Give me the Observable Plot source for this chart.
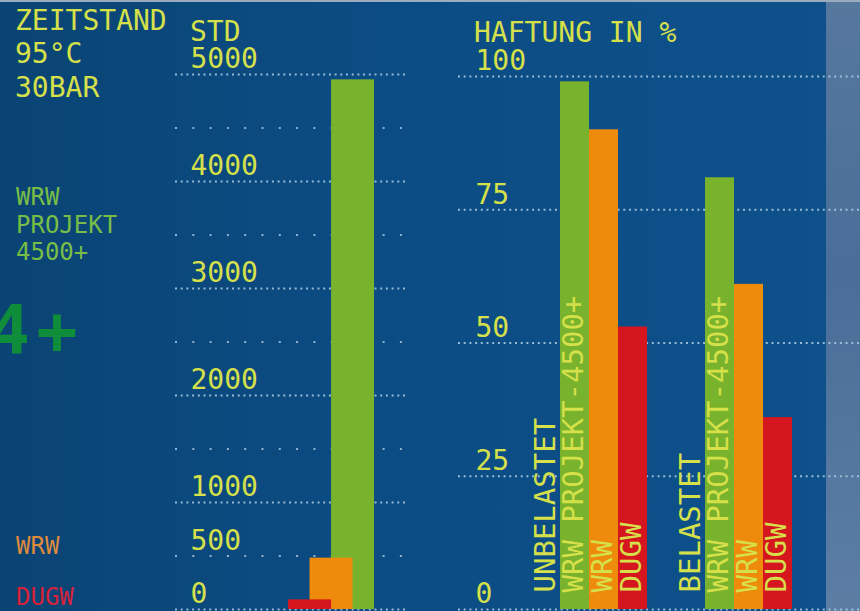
<!DOCTYPE html>
<html><head><meta charset="utf-8">
<script src="https://cdn.jsdelivr.net/npm/d3@7"></script>
<script src="https://cdn.jsdelivr.net/npm/@observablehq/plot@0.6"></script>
<style>
html,body{margin:0;padding:0;background:#0c4a82;}
body{width:860px;height:611px;overflow:hidden;}
#stage{position:relative;width:860px;height:611px;overflow:hidden;
  background:linear-gradient(90deg,#0a4474 0%,#0c4c84 45%,#0e518b 100%);}
#strip{position:absolute;left:826px;top:0;width:34px;height:611px;
  background:linear-gradient(180deg,#56789f 0%,#4a6e98 45%,#5c7ea5 100%);}
#topline{position:absolute;left:0;top:0;width:860px;height:2px;background:#9aabbd;}
.chart{position:absolute;top:0;}
.chart svg{overflow:visible;}
#anno{position:absolute;left:0;top:0;}
</style></head>
<body><div id="stage"><div id="strip"></div><div id="topline"></div></div>
<script>
// ---- data ----
const zeitSeries = ["DUGW", "WRW", "WRW PROJEKT 4500+"];
const zeitValues = [90, 480, 4950];           // Std
const zeitTicks = [0, 500, 1000, 2000, 3000, 4000, 5000];
const zeitMajor = [0, 1000, 2000, 3000, 4000, 5000];
const zeitMinor = [500, 1500, 2500, 3500, 4500];

const haftGroups = ["UNBELASTET", "BELASTET"];
const haftSeries = ["WRW PROJEKT-4500+", "WRW", "DUGW"];
const haftUnbelastet = [99, 90, 53];          // %
const haftBelastet = [81, 61, 36];            // %
const haftTicks = [0, 25, 50, 75, 100];

const seriesColors = {green: "#79b22c", orange: "#ef8b0c", red: "#d6161f"};
const textColor = "#d5e04a";
const gridColor = "#a6c6de";
const FONT = "DejaVu Sans Mono, Liberation Mono, monospace";

// ---- left chart: Zeitstand ----
const zeitColors = [seriesColors.red, seriesColors.orange, seriesColors.green];
const zeitData = zeitSeries.map((s, i) => ({series: s, value: zeitValues[i], x1: i, x2: i + 2}));
const zeitDrawOrder = zeitData.slice().reverse(); // tallest bar at the back

const left = Plot.plot({
  width: 430, height: 611,
  marginLeft: 175, marginRight: 25, marginTop: 74, marginBottom: 2,
  style: {background: "transparent", overflow: "visible"},
  x: {type: "linear", domain: [-5.26, 5.44], axis: null},
  y: {domain: [0, 5000], axis: null},
  color: {domain: zeitSeries, range: zeitColors},
  marks: [
    Plot.ruleY(zeitMajor, {stroke: gridColor, strokeWidth: 2, strokeDasharray: "2,3.7", strokeOpacity: 0.9}),
    Plot.ruleY(zeitMinor, {stroke: gridColor, strokeWidth: 2, strokeDasharray: "2,15.3", strokeOpacity: 0.85}),
    Plot.rectY(zeitDrawOrder, {x1: "x1", x2: "x2", y1: 0, y2: "value", fill: "series"}),
    Plot.axisY(zeitTicks, {anchor: "left", label: null, tickSize: 0, tickPadding: 0, textAnchor: "start",
      dx: 15, dy: -15, fontSize: 28, fill: textColor, fontFamily: FONT, tickFormat: d => String(d)})
  ]
});

// ---- right chart: Haftung ----
const haftValues = [haftUnbelastet, haftBelastet];
const haftColors = [seriesColors.green, seriesColors.orange, seriesColors.red];
const slots = [];
const haftBars = [];
const haftGroupLabels = [];
haftGroups.forEach((g, gi) => {
  slots.push(g + "|label");
  haftGroupLabels.push({slot: g + "|label", text: g});
  haftSeries.forEach((s, si) => {
    slots.push(g + "|" + s);
    haftBars.push({slot: g + "|" + s, series: s, value: haftValues[gi][si]});
  });
  if (gi < haftGroups.length - 1) slots.push(g + "|gap");
});

const right = Plot.plot({
  width: 430, height: 611,
  marginLeft: 28, marginRight: 0, marginTop: 76, marginBottom: 2,
  style: {background: "transparent", overflow: "visible"},
  x: {type: "band", domain: slots, range: [99, 363], padding: 0, axis: null},
  y: {domain: [0, 100], axis: null},
  color: {domain: haftSeries, range: haftColors},
  marks: [
    Plot.ruleY(haftTicks, {stroke: gridColor, strokeWidth: 2, strokeDasharray: "2,3.7", strokeOpacity: 0.9}),
    Plot.barY(haftBars, {x: "slot", y: "value", fill: "series", inset: 0}),
    Plot.text(haftBars, {x: "slot", y: 0, text: "series", rotate: -90, textAnchor: "start",
      dy: -17, dx: -1, fill: textColor, fontSize: 29, fontFamily: FONT}),
    Plot.text(haftGroupLabels, {x: "slot", y: 0, text: "text", rotate: -90, textAnchor: "start",
      dy: -17, fill: textColor, fontSize: 29, fontFamily: FONT}),
    Plot.axisY(haftTicks, {anchor: "left", label: null, tickSize: 0, tickPadding: 0, textAnchor: "start",
      dx: 17, dy: -15, fontSize: 28, fill: textColor, fontFamily: FONT, tickFormat: d => String(d)})
  ]
});

const stage = document.getElementById("stage");
const lw = document.createElement("div"); lw.className = "chart"; lw.style.left = "0px"; lw.appendChild(left); stage.appendChild(lw);
const rw = document.createElement("div"); rw.className = "chart"; rw.style.left = "430px"; rw.appendChild(right); stage.appendChild(rw);

// ---- free labels ----
const labels = [
  {t: "ZEITSTAND", x: 15, y: 30, s: 28, c: textColor},
  {t: "95°C", x: 15, y: 63, s: 28, c: textColor},
  {t: "30BAR", x: 15, y: 97, s: 28, c: textColor},
  {t: "STD", x: 190, y: 41, s: 28, c: textColor},
  {t: "HAFTUNG IN %", x: 474, y: 42, s: 28, c: textColor},
  {t: "WRW", x: 16, y: 205, s: 24, c: "#78bd47"},
  {t: "PROJEKT", x: 16, y: 233, s: 24, c: "#78bd47"},
  {t: "4500+", x: 16, y: 260, s: 24, c: "#78bd47"},
  {t: "WRW", x: 16, y: 554, s: 24, c: "#de8a3c"},
  {t: "DUGW", x: 16, y: 605, s: 24, c: "#d6213a"}
];
const anno = d3.select(stage).append("svg").attr("id", "anno").attr("width", 860).attr("height", 611);
anno.selectAll("text.l").data(labels).join("text").attr("class", "l")
  .attr("x", d => d.x).attr("y", d => d.y).attr("fill", d => d.c)
  .attr("font-size", d => d.s).attr("font-family", FONT).text(d => d.t);
// partially visible "4+" logo at the left edge
anno.append("text").attr("x", 30).attr("y", 354).attr("text-anchor", "end")
  .attr("font-size", 68).attr("font-weight", "bold").attr("font-family", FONT)
  .attr("fill", "#0f8d3b").text("4");
anno.append("text").attr("x", 57).attr("y", 354).attr("text-anchor", "middle")
  .attr("font-size", 68).attr("font-weight", "bold").attr("font-family", FONT)
  .attr("fill", "#0f8d3b").text("+");
</script></body></html>
